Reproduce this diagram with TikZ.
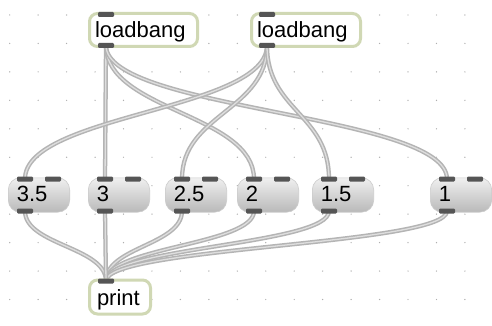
\documentclass[tikz,border=0pt]{standalone}
\usepackage{fontspec}
\setmainfont{Liberation Sans}
\definecolor{objborder}{RGB}{208,216,180}
\definecolor{portc}{RGB}{85,85,85}
\definecolor{cordout}{RGB}{180,180,180}
\definecolor{cordin}{RGB}{222,222,222}
\definecolor{dotc}{RGB}{175,175,175}
\pgfdeclarelayer{bglayer}
\pgfdeclarelayer{cordlayer}
\pgfsetlayers{bglayer,cordlayer,main}
\begin{document}
\begin{tikzpicture}[x=1pt,y=-1pt,
  objbox/.style={draw=objborder, line width=3pt, fill=white, rounded corners=8pt,
    minimum height=33pt, inner ysep=0pt, inner xsep=5.5pt, align=left,
    font=\fontsize{22}{24}\selectfont, text height=19pt, text depth=3pt},
  msgbox/.style={draw=gray!40, line width=0.6pt, top color=gray!12, bottom color=gray!55,
    rounded corners=12pt, minimum width=61.4pt, minimum height=34.4pt,
    inner xsep=8.5pt, inner ysep=0pt, text width=44.4pt, align=left,
    font=\fontsize{22}{24}\selectfont, text height=16pt, text depth=4pt},
  port/.style={fill=portc, rounded corners=1.2pt, minimum width=16pt, minimum height=5pt,
    inner sep=0pt, outer sep=0pt},
  cord/.style={draw=cordout, double=cordin, double distance=1.3pt, line width=1.5pt}
]
\useasboundingbox (0,0) rectangle (492,326);

% background and grid dots
\begin{pgfonlayer}{bglayer}
\fill[white] (0,0) rectangle (492,326);
\foreach \i in {0,...,17}{
  \foreach \j in {0,...,10}{
    \fill[dotc] (9.7+28.45*\i, 15+28.45*\j) circle (0.7pt);
  }
}
\end{pgfonlayer}

% object boxes
\node[objbox, minimum width=108pt, text width=97pt] (lb1) at (143.5,30) {loadbang};
\node[objbox, minimum width=109pt, text width=98pt] (lb2) at (306,30) {loadbang};
\node[objbox, minimum width=61pt, minimum height=34pt, inner xsep=7.5pt, text width=46pt] (pr) at (120,297) {print};

% message boxes
\node[msgbox] (m35) at (39,195) {3.5};
\node[msgbox] (m3)  at (119,195) {3};
\node[msgbox] (m25) at (196,195) {2.5};
\node[msgbox] (m2)  at (268,195) {2};
\node[msgbox] (m15) at (343,195) {1.5};
\node[msgbox] (m1)  at (461,195) {1};

% ports of object boxes
\node[port, anchor=north west] (lb1in)  at ([xshift=10pt]lb1.north west) {};
\node[port, anchor=south west] (lb1out) at ([xshift=10pt]lb1.south west) {};
\node[port, anchor=north west] (lb2in)  at ([xshift=9pt]lb2.north west) {};
\node[port, anchor=south west] (lb2out) at ([xshift=9pt]lb2.south west) {};
\node[port, anchor=north west] (prin)   at ([xshift=10pt]pr.north west) {};

% ports of message boxes
\foreach \m in {m35,m3,m25,m2,m15,m1}{
  \node[port, anchor=north west] (\m in)  at ([xshift=9pt,yshift=1pt]\m.north west) {};
  \node[port, anchor=north west] (\m rin) at ([xshift=37pt,yshift=1pt]\m.north west) {};
  \node[port, anchor=south west] (\m out) at ([xshift=9pt,yshift=-1pt]\m.south west) {};
}

% cords
\begin{pgfonlayer}{cordlayer}
\draw[cord] (lb1out.center) -- (m3in.center);
\draw[cord] (lb1out.center) .. controls +(0,65) and +(0,-65) .. (m2in.center);
\draw[cord] (lb1out.center) .. controls +(0,65) and +(0,-65) .. (m1in.center);
\draw[cord] (lb2out.center) .. controls +(0,65) and +(0,-65) .. (m35in.center);
\draw[cord] (lb2out.center) .. controls +(0,65) and +(0,-65) .. (m25in.center);
\draw[cord] (lb2out.center) .. controls +(0,65) and +(0,-65) .. (m15in.center);
\foreach \m in {m35,m25,m2,m15,m1}{
  \draw[cord] (\m out.center) .. controls +(0,34) and +(0,-34) .. (prin.center);
}
\draw[cord] (m3out.center) -- (prin.center);
\end{pgfonlayer}
\end{tikzpicture}
\end{document}
